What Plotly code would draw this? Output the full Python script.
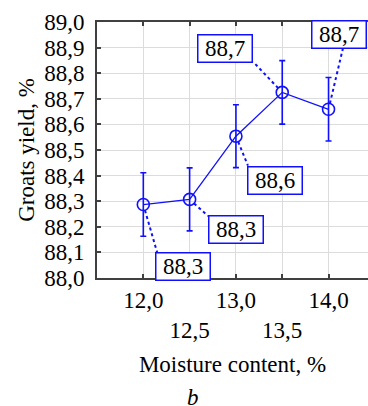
import plotly.graph_objects as go

# ---- data ----
moisture = [12.0, 12.5, 13.0, 13.5, 14.0]
groats_yield = [88.287, 88.307, 88.554, 88.725, 88.659]
yield_err = [0.124, 0.123, 0.123, 0.124, 0.124]
x_tick_vals = [12.0, 12.5, 13.0, 13.5, 14.0]
x_tick_labels = ["12,0", "12,5", "13,0", "13,5", "14,0"]
y_tick_vals = [88.0, 88.1, 88.2, 88.3, 88.4, 88.5, 88.6, 88.7, 88.8, 88.9, 89.0]

# ---- label placement (pixel offsets from each point, screen y down) ----
label_dx = [40, 46, 39.5, -57, 10]
label_dy = [62, 30, 44, -44.4, -74.5]
conn_dx = [14, 18.5, 12, -29, 14.5]
conn_dy = [48.5, 16.5, 29.5, -30.5, -61.5]

BLUE = "#1010ff"
FONT = "Liberation Serif, Times New Roman, serif"
FS = 23

def fmt(v):
    return f"{v:.1f}".replace(".", ",")

fig = go.Figure()
fig.add_trace(go.Scatter(
    x=moisture, y=groats_yield, mode="lines+markers",
    line=dict(color=BLUE, width=1.3),
    marker=dict(symbol="circle-open", size=12, color=BLUE, line=dict(width=1.6, color=BLUE)),
    error_y=dict(type="data", array=yield_err, visible=True, color=BLUE, thickness=1.6, width=3),
    showlegend=False, hoverinfo="skip",
))

shapes = []
annotations = []
r = 6.0
for x, y, ldx, ldy, cdx, cdy in zip(moisture, groats_yield, label_dx, label_dy, conn_dx, conn_dy):
    d = (cdx ** 2 + cdy ** 2) ** 0.5
    sx, sy = cdx * r / d, cdy * r / d
    shapes.append(dict(
        type="line", xref="x", yref="y",
        xsizemode="pixel", ysizemode="pixel", xanchor=x, yanchor=y,
        x0=sx, x1=cdx, y0=-sy, y1=-cdy,
        line=dict(color=BLUE, width=2, dash="dot"), layer="above",
    ))
    annotations.append(dict(
        x=x, y=y, xref="x", yref="y", xshift=ldx, yshift=-ldy,
        text=fmt(y), showarrow=False,
        font=dict(family=FONT, size=FS, color="black"),
        bgcolor="white", bordercolor=BLUE, borderwidth=1.5, borderpad=1,
        width=51, height=24, align="center", valign="middle",
    ))

annotations.append(dict(
    x=0.354, y=-0.41, xref="paper", yref="paper", xanchor="center", yanchor="top",
    text="<i>b</i>", showarrow=False, font=dict(family=FONT, size=FS, color="black"),
))

ticktext = [t if i % 2 == 0 else "<br>" + t for i, t in enumerate(x_tick_labels)]

axis_common = dict(
    showline=True, linecolor="#404040", linewidth=2,
    ticks="inside", ticklen=4, tickcolor="#404040", tickwidth=1.5,
    showgrid=True, gridcolor="#dcdcdc", gridwidth=1,
    zeroline=False,
    tickfont=dict(family=FONT, size=FS, color="black"),
)

fig.update_layout(
    width=368, height=406,
    margin=dict(l=97, r=0, t=22, b=128),
    paper_bgcolor="white", plot_bgcolor="white",
    font=dict(family=FONT, size=FS, color="black"),
    separators=", ",
    shapes=shapes, annotations=annotations,
    xaxis=dict(
        range=[11.5, 14.426], tickvals=x_tick_vals, ticktext=ticktext,
        mirror="ticks",
        title=dict(text="Moisture content, %", font=dict(family=FONT, size=FS, color="black"), standoff=14),
        **axis_common,
    ),
    yaxis=dict(
        range=[88.0, 89.0], tickvals=y_tick_vals, tickformat=".1f",
        mirror=False, ticklabelstandoff=6,
        title=dict(text="Groats yield, %", font=dict(family=FONT, size=FS, color="black"), standoff=3),
        **axis_common,
    ),
)

fig.write_html("out.html")
